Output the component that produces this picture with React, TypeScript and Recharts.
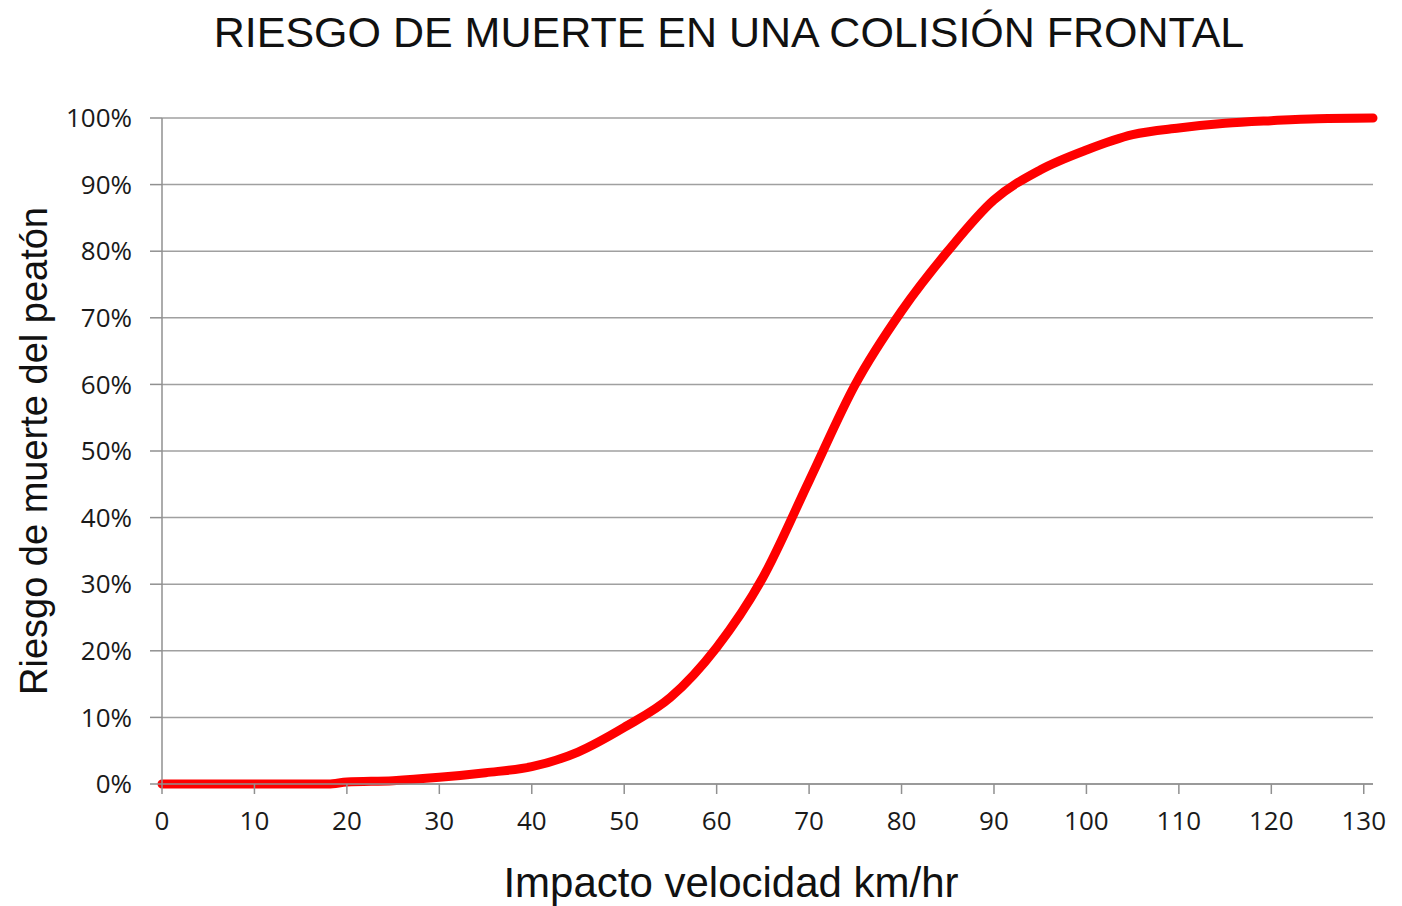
import React from 'react';
import { LineChart, Line, XAxis, YAxis, CartesianGrid, Label } from 'recharts';

// speed (km/h) and death risk (fraction)
const speeds = [0, 5, 10, 15, 18, 20, 25, 30, 35, 40, 45, 50, 55, 60, 65, 70, 75, 80, 85, 90, 95, 100, 105, 110, 115, 120, 125, 131];
const risk = [0, 0, 0, 0, 0, 0.003, 0.005, 0.01, 0.017, 0.026, 0.048, 0.085, 0.13, 0.205, 0.31, 0.455, 0.6, 0.71, 0.8, 0.877, 0.922, 0.952, 0.975, 0.985, 0.992, 0.996, 0.999, 1];

const xTicks = [0, 10, 20, 30, 40, 50, 60, 70, 80, 90, 100, 110, 120, 130];
const yTicks = [0, 0.1, 0.2, 0.3, 0.4, 0.5, 0.6, 0.7, 0.8, 0.9, 1];

const data = speeds.map((s, i) => ({ speed: s, risk: risk[i] }));

const axisFont = { fontFamily: '"Open Sans", sans-serif', fontSize: 26, fill: '#1a1a1a' };
const titleFont = '"Liberation Sans", Arial, sans-serif';

export default function App() {
  return (
    <div style={{ position: 'absolute', left: 0, top: 0, width: 1402, height: 906, background: '#fff', overflow: 'hidden' }}>
      <div
        style={{
          position: 'absolute',
          left: 0,
          top: 7,
          width: 1458,
          textAlign: 'center',
          fontFamily: titleFont,
          fontSize: 43,
          lineHeight: '50px',
          color: '#111',
        }}
      >
        RIESGO DE MUERTE EN UNA COLISIÓN FRONTAL
      </div>
      <div
        style={{
          position: 'absolute',
          left: 0,
          top: 862,
          width: 1462,
          textAlign: 'center',
          fontFamily: titleFont,
          fontSize: 42,
          lineHeight: '42px',
          color: '#111',
        }}
      >
        Impacto velocidad km/hr
      </div>
      <LineChart width={1402} height={906} data={data} margin={{ top: 118, right: 29, left: 82, bottom: 72 }}>
        <CartesianGrid vertical={false} stroke="#a0a0a0" strokeWidth={1.5} />
        <XAxis
          dataKey="speed"
          type="number"
          domain={[0, 131]}
          ticks={xTicks}
          height={50}
          stroke="#909090"
          strokeWidth={1.5}
          tickSize={10}
          tickMargin={18}
          tick={axisFont}
        />
        <YAxis
          type="number"
          domain={[0, 1]}
          ticks={yTicks}
          width={80}
          stroke="#909090"
          strokeWidth={1.5}
          tickSize={12}
          tickMargin={18}
          tick={axisFont}
          tickFormatter={(v: number) => `${Math.round(v * 100)}%`}
        >
          <Label
            value="Riesgo de muerte del peatón"
            angle={-90}
            position="insideLeft"
            offset={-48}
            style={{ textAnchor: 'middle', fontFamily: titleFont, fontSize: 38, fill: '#111' }}
          />
        </YAxis>
        <Line
          type="monotone"
          dataKey="risk"
          stroke="#ff0000"
          strokeWidth={9}
          strokeLinecap="round"
          dot={false}
          isAnimationActive={false}
        />
      </LineChart>
    </div>
  );
}
